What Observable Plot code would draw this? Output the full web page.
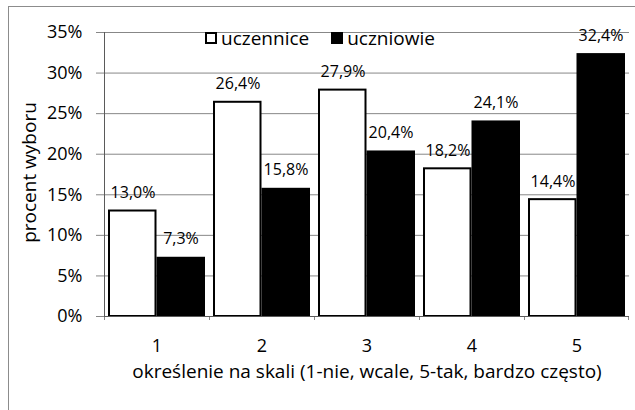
<!DOCTYPE html>
<html><head><meta charset="utf-8">
<script src="https://cdn.jsdelivr.net/npm/d3@7"></script>
<script src="https://cdn.jsdelivr.net/npm/@observablehq/plot@0.6"></script>
<style>
body{margin:0;background:#fff;}
#wrap{position:relative;width:635px;height:410px;overflow:hidden;font-family:"Open Sans",sans-serif;}
#border{position:absolute;left:8px;top:6px;width:700px;height:500px;border-left:1px solid #8c8c8c;border-top:1px solid #8c8c8c;pointer-events:none;}
#legend{position:absolute;left:205px;top:28px;display:flex;align-items:center;font-size:19px;color:#000;line-height:20px;}
.item{display:flex;align-items:center;}
.sw{width:8px;height:8px;border:2px solid #000;margin-right:4px;box-sizing:content-box;}
</style></head>
<body><div id="wrap"></div>
<script>
const categories = ["1", "2", "3", "4", "5"];
const seriesNames = ["uczennice", "uczniowie"];
const uczennice = [13.0, 26.4, 27.9, 18.2, 14.4];
const uczniowie = [7.3, 15.8, 20.4, 24.1, 32.4];
const yTicks = [0, 5, 10, 15, 20, 25, 30, 35];
const yLabel = "procent wyboru";
const xLabel = "określenie na skali (1-nie, wcale, 5-tak, bardzo często)";

const W = 635, H = 410;
const mL = 104, mR = 6, mT = 32, mB = 94;
const bw = (W - mL - mR) / categories.length;
const plotH = H - mT - mB;
const font = '"Open Sans", sans-serif';

const data = [];
categories.forEach((c, i) => {
  data.push({cat: c, series: seriesNames[0], value: uczennice[i]});
  data.push({cat: c, series: seriesNames[1], value: uczniowie[i]});
});
const girls = data.filter(d => d.series === seriesNames[0]);
const boys = data.filter(d => d.series === seriesNames[1]);
const fmt = v => v.toFixed(1).replace(".", ",") + "%";
const gap = 4, half = bw / 2;

const chart = Plot.plot({
  width: W, height: H,
  marginLeft: mL, marginRight: mR, marginTop: mT, marginBottom: mB,
  style: {fontFamily: font, background: "transparent", color: "#000"},
  x: {type: "band", domain: categories, padding: 0, axis: null},
  y: {domain: [0, 35], axis: null},
  marks: [
    Plot.gridY(yTicks, {stroke: "#878787", strokeOpacity: 1, strokeWidth: 1}),
    Plot.axisY(yTicks, {tickSize: 8, tickPadding: 14, tickFormat: d => d + "%", fontSize: 18, stroke: "#878787", strokeOpacity: 1, label: null, fill: "#000"}),
    Plot.axisX(categories, {tickSize: 0, tickPadding: 23, fontSize: 18, label: null, fill: "#000"}),
    Plot.ruleX(categories, {x: d => d, dx: -half, insetTop: plotH, insetBottom: -4, stroke: "#878787"}),
    Plot.ruleX([categories[categories.length - 1]], {x: d => d, dx: half - 1, insetTop: plotH, insetBottom: -4, stroke: "#878787"}),
    Plot.barY(girls, {x: "cat", y: "value", fill: "white", stroke: "#000", strokeWidth: 2, insetLeft: gap + 1, insetRight: half + 1}),
    Plot.barY(boys, {x: "cat", y: "value", fill: "#000", insetLeft: half, insetRight: gap}),
    Plot.ruleY([0], {stroke: "#5a5a5a"}),
    Plot.ruleX([categories[0]], {x: d => d, dx: -half, stroke: "#5a5a5a"}),
    Plot.text(girls, {x: "cat", y: "value", text: d => fmt(d.value), dx: -24, dy: -18, fontSize: 16, fill: "#000"}),
    Plot.text(boys, {x: "cat", y: "value", text: d => fmt(d.value), dx: 24, dy: -18, fontSize: 16, fill: "#000"}),
    Plot.text([yLabel], {frameAnchor: "left", textAnchor: "middle", rotate: -90, dx: -75, dy: -2, fontSize: 19, fill: "#000"}),
    Plot.text([xLabel], {frameAnchor: "bottom", textAnchor: "middle", dy: 61, fontSize: 19, fill: "#000"})
  ]
});

const wrap = document.getElementById("wrap");
wrap.appendChild(chart);
const border = document.createElement("div");
border.id = "border";
wrap.appendChild(border);
const legend = document.createElement("div");
legend.id = "legend";
seriesNames.forEach((name, i) => {
  const item = document.createElement("div");
  item.className = "item";
  if (i > 0) item.style.marginLeft = "22px";
  const sw = document.createElement("div");
  sw.className = "sw";
  sw.style.background = i === 0 ? "#fff" : "#000";
  const t = document.createElement("span");
  t.textContent = name;
  item.appendChild(sw);
  item.appendChild(t);
  legend.appendChild(item);
});
wrap.appendChild(legend);
</script>
</body></html>
